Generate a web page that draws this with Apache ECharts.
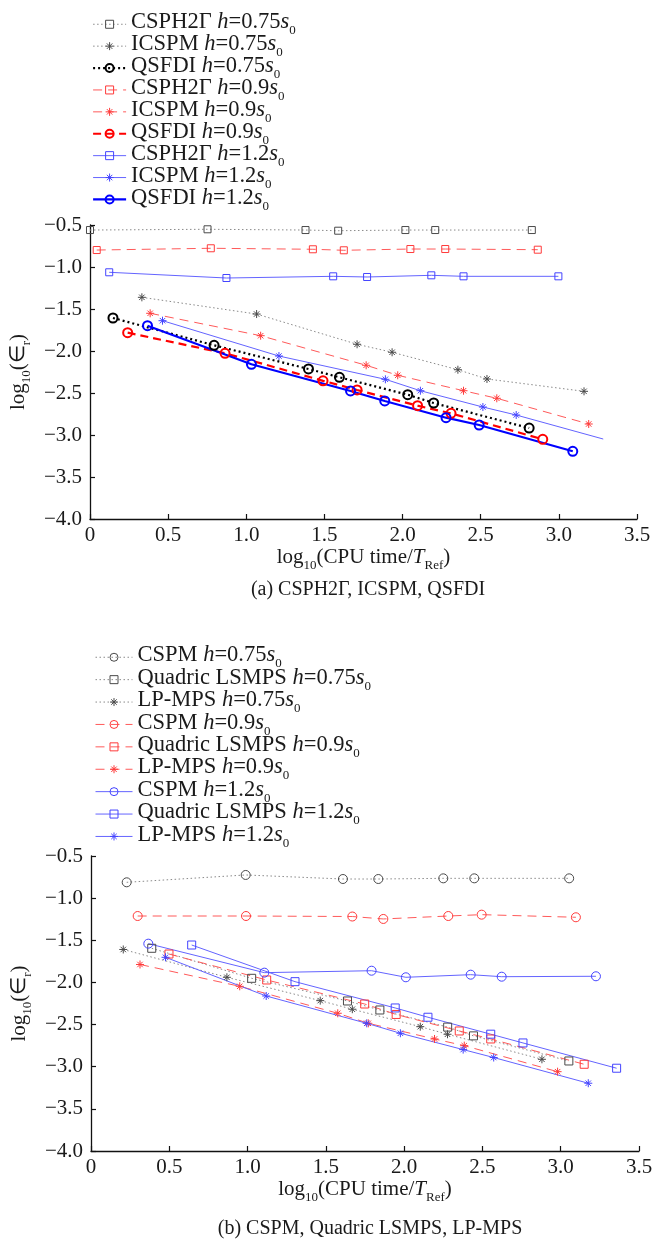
<!DOCTYPE html>
<html><head><meta charset="utf-8">
<script src="https://cdn.jsdelivr.net/npm/echarts@6/dist/echarts.min.js"></script>
<style>html,body{margin:0;padding:0;background:#fff}#c{width:661px;height:1249px}</style>
</head><body><div id="c"></div>
<script>
// ---- axis ticks ----
const xTicks = [0, 0.5, 1.0, 1.5, 2.0, 2.5, 3.0, 3.5];
const yTicks = [-4.0, -3.5, -3.0, -2.5, -2.0, -1.5, -1.0, -0.5];
const hValues = ['0.75', '0.9', '1.2'];
const topMethods = ['CSPH2Γ', 'ICSPM', 'QSFDI'];
const botMethods = ['CSPM', 'Quadric LSMPS', 'LP-MPS'];

// ---- (a) data: [log10(CPU time/Tref), log10(eps_r)] ----
const topCSPH2G_075 = [[0,-0.56],[0.752,-0.551],[1.379,-0.56],[1.588,-0.568],[2.018,-0.56],[2.209,-0.56],[2.827,-0.56]];
const topICSPM_075  = [[0.332,-1.361],[1.066,-1.56],[1.709,-1.92],[1.933,-2.015],[2.354,-2.223],[2.54,-2.333],[3.161,-2.48]];
const topQSFDI_075  = [[0.147,-1.607],[0.794,-1.932],[1.398,-2.214],[1.596,-2.313],[2.033,-2.52],[2.199,-2.619],[2.81,-2.917]];
const topCSPH2G_09  = [[0.043,-0.798],[0.773,-0.777],[1.426,-0.789],[1.624,-0.801],[2.05,-0.786],[2.273,-0.786],[2.865,-0.794]];
const topICSPM_09   = [[0.385,-1.551],[1.092,-1.818],[1.767,-2.17],[1.969,-2.289],[2.39,-2.473],[2.603,-2.563],[3.191,-2.869]];
const topQSFDI_09   = [[0.241,-1.782],[0.864,-2.027],[1.491,-2.355],[1.709,-2.464],[2.096,-2.651],[2.31,-2.742],[2.897,-3.051]];
const topCSPH2G_12  = [[0.123,-1.063],[0.873,-1.131],[1.556,-1.111],[1.773,-1.119],[2.184,-1.099],[2.39,-1.111],[2.997,-1.111]];
const topICSPM_12   = [[0.464,-1.639],[1.209,-2.06],[1.89,-2.337],[2.114,-2.473],[2.514,-2.667],[2.727,-2.762],[3.284,-3.048]];
const topQSFDI_12   = [[0.368,-1.699],[1.033,-2.158],[1.667,-2.476],[1.886,-2.595],[2.278,-2.794],[2.49,-2.881],[3.089,-3.194]];

// ---- (b) data ----
const botCSPM_075   = [[0.228,-0.812],[0.988,-0.725],[1.609,-0.773],[1.835,-0.773],[2.25,-0.765],[2.448,-0.765],[3.054,-0.765]];
const botLSMPS_075  = [[0.388,-1.595],[1.026,-1.951],[1.638,-2.22],[1.845,-2.327],[2.278,-2.53],[2.443,-2.634],[3.052,-2.932]];
const botLPMPS_075  = [[0.206,-1.609],[0.868,-1.939],[1.464,-2.216],[1.669,-2.318],[2.103,-2.525],[2.277,-2.615],[2.88,-2.912]];
const botCSPM_09    = [[0.298,-1.212],[0.99,-1.212],[1.669,-1.218],[1.867,-1.247],[2.282,-1.212],[2.495,-1.196],[3.097,-1.227]];
const botLSMPS_09   = [[0.498,-1.663],[1.122,-1.971],[1.748,-2.256],[1.949,-2.38],[2.352,-2.576],[2.553,-2.671],[3.15,-2.971]];
const botLPMPS_09   = [[0.313,-1.787],[0.95,-2.046],[1.576,-2.366],[1.771,-2.485],[2.194,-2.671],[2.384,-2.75],[2.98,-3.059]];
const botCSPM_12    = [[0.366,-1.54],[1.107,-1.884],[1.792,-1.861],[2.011,-1.939],[2.425,-1.908],[2.623,-1.932],[3.225,-1.927]];
const botLSMPS_12   = [[0.643,-1.556],[1.303,-1.991],[1.943,-2.303],[2.152,-2.413],[2.553,-2.614],[2.759,-2.718],[3.357,-3.018]];
const botLPMPS_12   = [[0.476,-1.702],[1.119,-2.161],[1.761,-2.485],[1.976,-2.603],[2.377,-2.797],[2.572,-2.891],[3.176,-3.196]];

const FONT = 'Liberation Serif';
const TXT = '#1a1a1a';
const STAR = 'path://M5,0L5,10M0,5L10,5M1.6,1.6L8.4,8.4M1.6,8.4L8.4,1.6';

const richBase = (fs) => ({
  m:   {fontFamily: FONT, fontSize: fs, color: TXT, verticalAlign: 'top', lineHeight: fs + 4},
  i:   {fontFamily: FONT, fontSize: fs, color: TXT, fontStyle: 'italic', verticalAlign: 'top', lineHeight: fs + 4},
  sub: {fontFamily: FONT, fontSize: 13, color: TXT, verticalAlign: 'bottom', lineHeight: fs + 4}
});

const nm = (method, h) => method + ' h=' + h + 's0';
function legendFmt(name) {
  const m = name.match(/^(.*) h=([\d.]+)s0$/);
  return '{m|' + m[1] + ' }{i|h}{m|=' + m[2] + '}{i|s}{sub|0}';
}

// style per h-level
const styles = {
  '0.75': {line: '#8a8a8a', mark: '#4a4a4a', dash: [1.5, 2.5]},
  '0.9':  {line: '#ff5a5a', mark: '#ff3a3a', dash: [9, 6]},
  '1.2':  {line: '#6464ff', mark: '#4444ff', dash: 'solid'}
};
const thick = {
  '0.75': {line: '#000000', dash: [2, 3]},
  '0.9':  {line: '#ff0000', dash: [8, 5]},
  '1.2':  {line: '#0000ff', dash: 'solid'}
};

function mk(name, data, grid, h, symbol, size, isThick, lastNoMarker) {
  const st = styles[h];
  const lc = isThick ? thick[h].line : st.line;
  const mc = isThick ? thick[h].line : st.mark;
  const d = data.map((p, k) => (lastNoMarker && k === data.length - 1) ? {value: p, symbol: 'none'} : p);
  return {
    type: 'line', name, data: d, xAxisIndex: grid, yAxisIndex: grid,
    symbol, symbolSize: size, showAllSymbol: true, clip: false, animation: false,
    lineStyle: {color: lc, width: isThick ? 2.2 : 1, type: isThick ? thick[h].dash : st.dash},
    itemStyle: {color: 'rgba(255,255,255,0)', borderColor: mc, borderWidth: isThick ? 2 : 1},
    emphasis: {disabled: true}, silent: true
  };
}

const topData = {
  'CSPH2Γ': {'0.75': topCSPH2G_075, '0.9': topCSPH2G_09, '1.2': topCSPH2G_12},
  'ICSPM':  {'0.75': topICSPM_075,  '0.9': topICSPM_09,  '1.2': topICSPM_12},
  'QSFDI':  {'0.75': topQSFDI_075,  '0.9': topQSFDI_09,  '1.2': topQSFDI_12}
};
const botData = {
  'CSPM':          {'0.75': botCSPM_075,  '0.9': botCSPM_09,  '1.2': botCSPM_12},
  'Quadric LSMPS': {'0.75': botLSMPS_075, '0.9': botLSMPS_09, '1.2': botLSMPS_12},
  'LP-MPS':        {'0.75': botLPMPS_075, '0.9': botLPMPS_09, '1.2': botLPMPS_12}
};

const series = [], topNames = [], botNames = [];
hValues.forEach(h => {
  topMethods.forEach(m => {
    const name = nm(m, h); topNames.push(name);
    if (m === 'CSPH2Γ') series.push(mk(name, topData[m][h], 0, h, 'rect', 7, false));
    else if (m === 'ICSPM') series.push(mk(name, topData[m][h], 0, h, STAR, 8, false, h === '1.2'));
    else series.push(mk(name, topData[m][h], 0, h, 'circle', 9, true));
  });
  botMethods.forEach(m => {
    const name = nm(m, h); botNames.push(name);
    if (m === 'CSPM') series.push(mk(name, botData[m][h], 1, h, 'circle', 9, false));
    else if (m === 'Quadric LSMPS') series.push(mk(name, botData[m][h], 1, h, 'rect', 8, false));
    else series.push(mk(name, botData[m][h], 1, h, STAR, 8, false));
  });
});

function xAx(grid) {
  return {
    type: 'value', gridIndex: grid, min: xTicks[0], max: xTicks[xTicks.length - 1], interval: xTicks[1] - xTicks[0],
    axisLine: {show: true, onZero: false, lineStyle: {color: '#111', width: 1.3}},
    axisTick: {show: true, inside: true, length: 5, lineStyle: {color: '#111', width: 1.2}},
    axisLabel: {margin: 6, fontFamily: FONT, fontSize: 21, color: TXT, formatter: v => v === 0 ? '0' : v.toFixed(1)},
    splitLine: {show: false},
    name: '{m|log}{sub|10}{m|(CPU time/}{i|T}{sub|Ref}{m|)}',
    nameLocation: 'middle', nameGap: 22,
    nameTextStyle: {rich: richBase(21)}
  };
}
function yAx(grid) {
  return {
    type: 'value', gridIndex: grid, min: yTicks[0], max: yTicks[yTicks.length - 1], interval: yTicks[1] - yTicks[0],
    axisLine: {show: true, onZero: false, lineStyle: {color: '#111', width: 1.3}},
    axisTick: {show: true, inside: true, length: 5, lineStyle: {color: '#111', width: 1.2}},
    axisLabel: {margin: 8, fontFamily: FONT, fontSize: 21, color: TXT, formatter: v => v.toFixed(1).replace('-', '\u2212')},
    splitLine: {show: false},
    name: '{m|log}{sub|10}{m|(∈}{sub|r}{m|)}',
    nameLocation: 'middle', nameGap: 41, nameRotate: 90,
    nameTextStyle: {rich: richBase(21)}
  };
}

function legendOf(names, left, top, iw, gap) {
  return {
    data: names, orient: 'vertical', left, top, padding: 0,
    itemWidth: iw, itemHeight: 10, itemGap: gap, itemTextGap: 18,
    formatter: legendFmt, textStyle: {rich: richBase(22.5)},
    lineStyle: {width: 'inherit'}, itemStyle: {borderWidth: 'inherit'},
    selectedMode: false
  };
}

const chart = echarts.init(document.getElementById('c'), null, {renderer: 'canvas'});
chart.setOption({
  animation: false,
  backgroundColor: '#fff',
  grid: [
    {left: 89, top: 225, width: 548, height: 294},
    {left: 91, top: 856, width: 548, height: 295}
  ],
  xAxis: [xAx(0), xAx(1)],
  yAxis: [yAx(0), yAx(1)],
  legend: [legendOf(topNames, 92, 11, 33, -4.6), legendOf(botNames, 95, 644, 37, -4.1)],
  graphic: [
    {type: 'text', x: 368, y: 590, silent: true,
     style: {text: '(a) CSPH2Γ, ICSPM, QSFDI', font: '20px "Liberation Serif"', fill: TXT, align: 'center', verticalAlign: 'middle'}},
    {type: 'text', x: 370, y: 1229, silent: true,
     style: {text: '(b) CSPM, Quadric LSMPS, LP-MPS', font: '20px "Liberation Serif"', fill: TXT, align: 'center', verticalAlign: 'middle'}}
  ],
  series
});
</script>
</body></html>
